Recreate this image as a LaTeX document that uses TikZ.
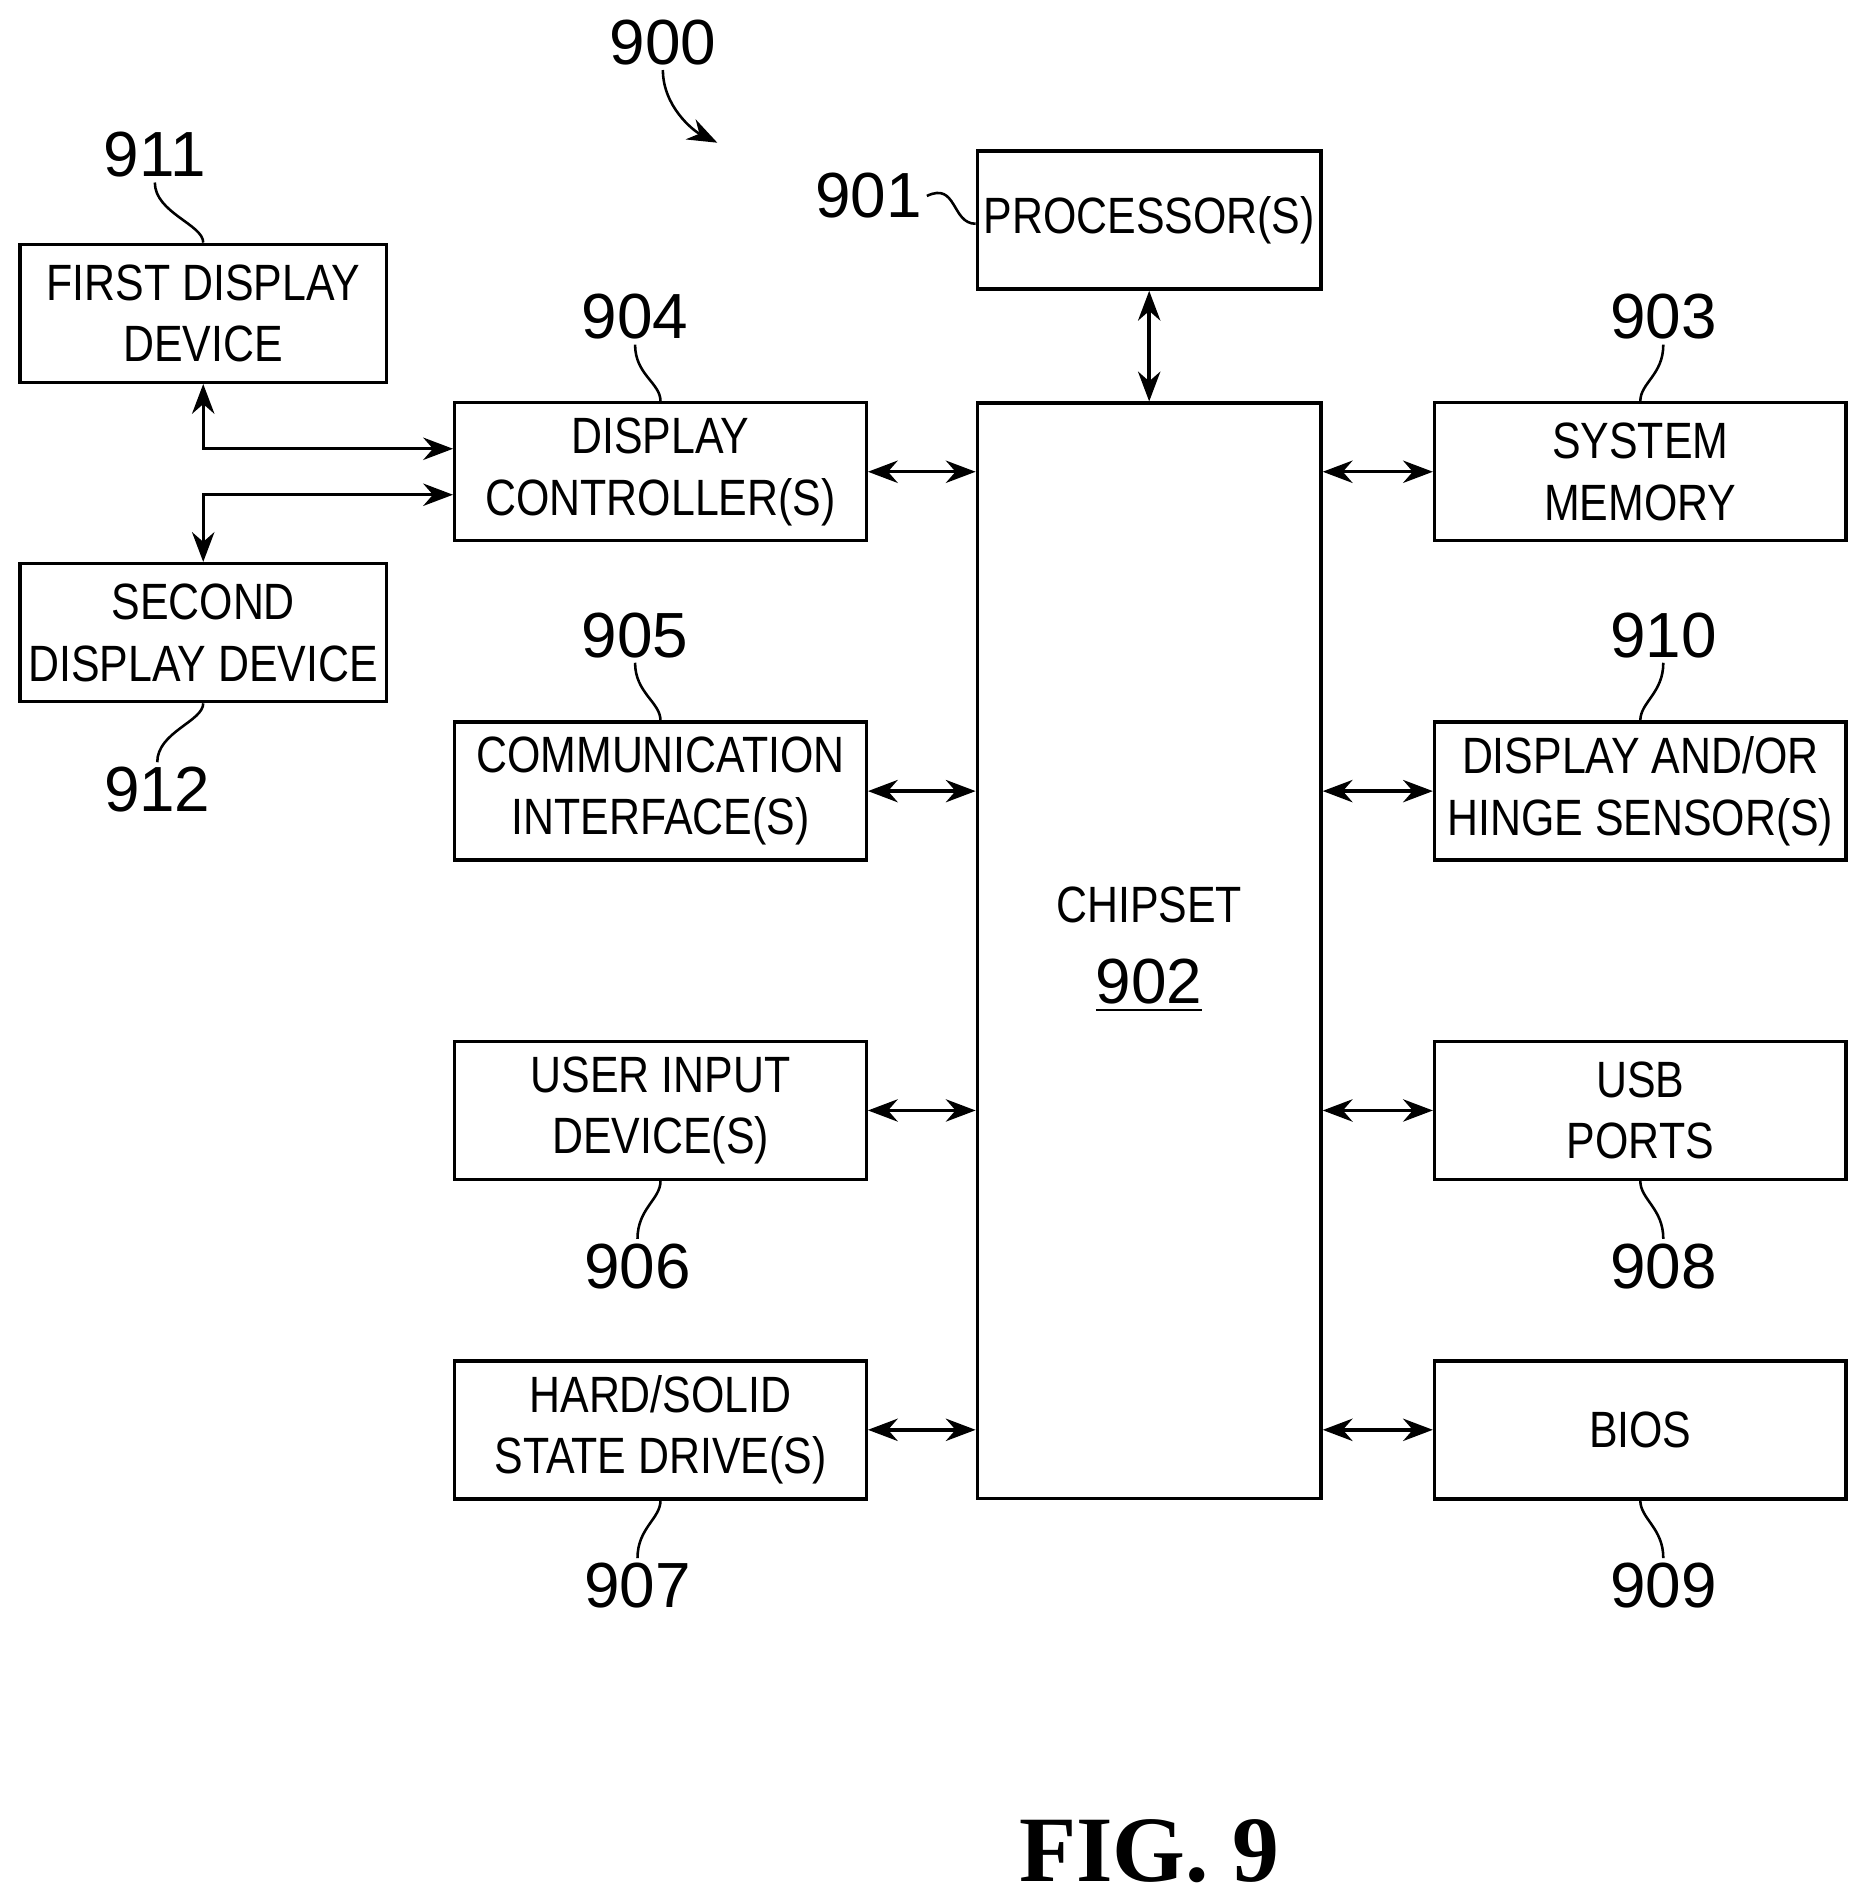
\documentclass[tikz,border=0pt]{standalone}
\usepackage{fontspec}
\setmainfont{Liberation Sans}
\newfontfamily\narrowfont{Liberation Sans}[FakeStretch=0.84]
\newfontfamily\figfont{Liberation Serif}
\usetikzlibrary{arrows.meta,positioning}

\tikzset{
    box/.style={draw, thick, minimum width=3.4cm, minimum height=1.14cm, align=center,
        font=\narrowfont\fontsize{12}{14.5}\selectfont, inner sep=1pt},
    lbl/.style={font=\fontsize{15}{18}\selectfont, inner sep=1pt},
    link/.style={thick, {Stealth[length=7pt]}-{Stealth[length=7pt]}},
    lead/.style={semithick}
}

\begin{document}
\begin{tikzpicture}[x=0.01cm, y=-0.01cm]
\useasboundingbox (0,0) rectangle (1550,1574);

% Boxen
\node[box, minimum width=3.03cm] (first) at (168,259) {FIRST DISPLAY\\DEVICE};
\node[box, minimum width=3.03cm] (second) at (168,523) {SECOND\\DISPLAY DEVICE};
\node[box] (dispctl) at (546,390) {DISPLAY\\CONTROLLER(S)};
\node[box] (comm) at (546,654) {COMMUNICATION\\INTERFACE(S)};
\node[box] (input) at (546,918) {USER INPUT\\DEVICE(S)};
\node[box] (drive) at (546,1182) {HARD/SOLID\\STATE DRIVE(S)};
\node[box, minimum width=2.84cm] (proc) at (950,182) {PROCESSOR(S)};
\node[box, minimum width=2.84cm, minimum height=9.05cm] (chip) at (950,786) {};
\node[box, draw=none] (chiptxt) at (950,748) {CHIPSET};
\node[lbl] (l902) at (950,815) {\underline{902}};
\node[box] (mem) at (1356,390) {SYSTEM\\MEMORY};
\node[box] (sensor) at (1356,654) {DISPLAY AND/OR\\HINGE SENSOR(S)};
\node[box] (usb) at (1356,918) {USB\\PORTS};
\node[box] (bios) at (1356,1182) {BIOS};

% Verbindungen
\foreach \b in {dispctl,comm,input,drive}
    \draw[link] (\b.east) -- (\b.east -| chip.west);
\foreach \b in {mem,sensor,usb,bios}
    \draw[link] (\b.west) -- (\b.west -| chip.east);
\draw[link] (proc) -- (chip);
\coordinate (c1) at (168,371);
\coordinate (c2) at (168,409);
\draw[link] (first.south) -- (c1) -- (c1 -| dispctl.west);
\draw[link] (dispctl.west |- c2) -- (c2) -- (second.north);

% Bezugszeichen
\node[lbl] (l900) at (548,35) {900};
\draw[lead, -{Stealth[length=7pt]}] (l900.south) .. controls +(0,30) and +(-20,-10) .. (593,118);
\node[lbl] (l901) at (718,162) {901};
\coordinate (p901) at (proc.west |- 0,185);
\draw[lead] (l901.east) .. controls +(25,-12) and +(-20,0) .. (p901);
\node[lbl] (l911) at (128,128) {911};
\draw[lead] (l911.south) .. controls +(0,25) and +(0,-15) .. (first.north);
\node[lbl] (l912) at (130,653) {912};
\draw[lead] (l912.north) .. controls +(0,-25) and +(0,15) .. (second.south);
\node[lbl] (l904) at (525,262) {904};
\draw[lead] (l904.south) .. controls +(0,25) and +(0,-15) .. (dispctl.north);
\node[lbl] (l905) at (525,525) {905};
\draw[lead] (l905.south) .. controls +(0,25) and +(0,-15) .. (comm.north);
\node[lbl] (l906) at (527,1047) {906};
\draw[lead] (l906.north) .. controls +(0,-25) and +(0,15) .. (input.south);
\node[lbl] (l907) at (527,1311) {907};
\draw[lead] (l907.north) .. controls +(0,-25) and +(0,15) .. (drive.south);
\node[lbl] (l903) at (1375,262) {903};
\draw[lead] (l903.south) .. controls +(0,25) and +(0,-15) .. (mem.north);
\node[lbl] (l910) at (1375,525) {910};
\draw[lead] (l910.south) .. controls +(0,25) and +(0,-15) .. (sensor.north);
\node[lbl] (l908) at (1375,1047) {908};
\draw[lead] (l908.north) .. controls +(0,-25) and +(0,15) .. (usb.south);
\node[lbl] (l909) at (1375,1311) {909};
\draw[lead] (l909.north) .. controls +(0,-25) and +(0,15) .. (bios.south);

\node[font=\figfont\bfseries\fontsize{22}{26}\selectfont] (fig) at (950,1530) {FIG. 9};
\end{tikzpicture}
\end{document}
